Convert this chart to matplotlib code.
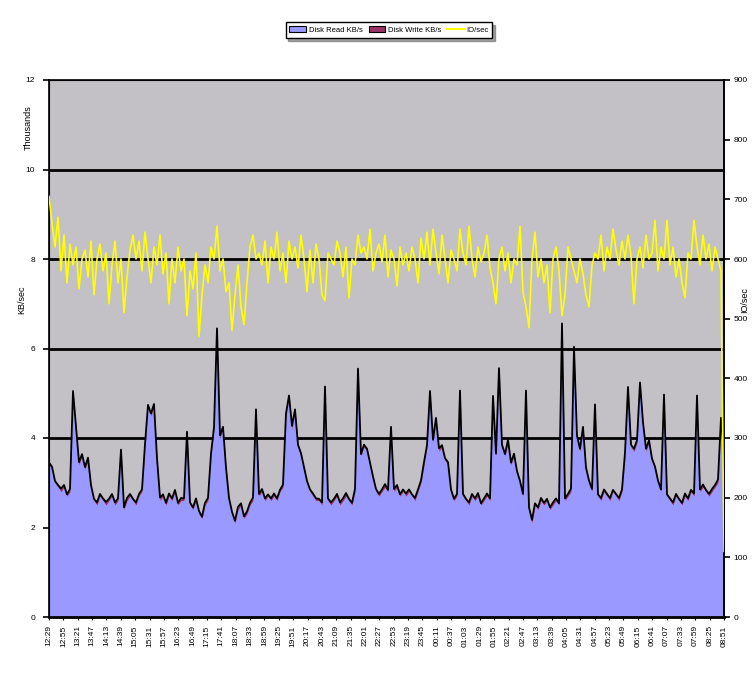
import matplotlib
matplotlib.use("Agg")
import matplotlib.pyplot as plt
import numpy as np
from matplotlib.patches import Patch
from matplotlib.lines import Line2D

plt.rcParams['font.family'] = ['Liberation Sans', 'DejaVu Sans']

# Disk Read KB/s (thousands)
disk_read = [
    3.4, 3.3, 3.0, 2.9, 2.8, 2.9, 2.7, 2.8, 5.0, 4.2, 3.4, 3.6, 3.3, 3.5, 2.9,
    2.6, 2.5, 2.7, 2.6, 2.5, 2.6, 2.7, 2.5, 2.6, 3.7, 2.4, 2.6, 2.7, 2.6, 2.5,
    2.7, 2.8, 3.8, 4.7, 4.5, 4.7, 3.5, 2.6, 2.7, 2.5, 2.7, 2.6, 2.8, 2.5, 2.6,
    2.6, 4.1, 2.5, 2.4, 2.6, 2.3, 2.2, 2.5, 2.6, 3.6, 4.2, 6.4, 4.0, 4.2, 3.3,
    2.6, 2.3, 2.1, 2.4, 2.5, 2.2, 2.3, 2.5, 2.6, 4.6, 2.7, 2.8, 2.6, 2.7, 2.6,
    2.7, 2.6, 2.8, 2.9, 4.5, 4.9, 4.2, 4.6, 3.8, 3.6, 3.3, 3.0, 2.8, 2.7, 2.6,
    2.6, 2.5, 5.1, 2.6, 2.5, 2.6, 2.7, 2.5, 2.6, 2.7, 2.6, 2.5, 2.8, 5.5, 3.6,
    3.8, 3.7, 3.4, 3.1, 2.8, 2.7, 2.8, 2.9, 2.8, 4.2, 2.8, 2.9, 2.7, 2.8, 2.7,
    2.8, 2.7, 2.6, 2.8, 3.0, 3.4, 3.8, 5.0, 3.9, 4.4, 3.7, 3.8, 3.5, 3.4, 2.8,
    2.6, 2.7, 5.0, 2.7, 2.6, 2.5, 2.7, 2.6, 2.7, 2.5, 2.6, 2.7, 2.6, 4.9, 3.6,
    5.5, 3.8, 3.6, 3.9, 3.4, 3.6, 3.2, 3.0, 2.7, 5.0, 2.4, 2.1, 2.5, 2.4, 2.6,
    2.5, 2.6, 2.4, 2.5, 2.6, 2.5, 6.5, 2.6, 2.7, 2.8, 6.0, 4.0, 3.7, 4.2, 3.3,
    3.0, 2.8, 4.7, 2.7, 2.6, 2.8, 2.7, 2.6, 2.8, 2.7, 2.6, 2.8, 3.6, 5.1, 3.8,
    3.7, 3.9, 5.2, 4.3, 3.7, 3.9, 3.5, 3.3, 3.0, 2.8, 4.9, 2.7, 2.6, 2.5, 2.7,
    2.6, 2.5, 2.7, 2.6, 2.8, 2.7, 4.9, 2.8, 2.9, 2.8, 2.7, 2.8, 2.9, 3.0, 4.4, 3.6,
]

# Disk Write KB/s (thousands)
disk_write = [
    0.05, 0.06, 0.04, 0.05, 0.07, 0.05, 0.04, 0.06, 0.05, 0.05, 0.06, 0.04, 0.05, 0.06, 0.05,
    0.04, 0.06, 0.05, 0.05, 0.07, 0.04, 0.05, 0.06, 0.05, 0.04, 0.05, 0.06, 0.05, 0.04, 0.06,
    0.05, 0.05, 0.06, 0.04, 0.05, 0.06, 0.05, 0.07, 0.04, 0.05, 0.06, 0.05, 0.04, 0.05, 0.06,
    0.05, 0.04, 0.06, 0.05, 0.05, 0.07, 0.04, 0.05, 0.06, 0.05, 0.04, 0.05, 0.06, 0.05, 0.04,
    0.06, 0.05, 0.05, 0.06, 0.04, 0.05, 0.06, 0.05, 0.07, 0.04, 0.05, 0.06, 0.05, 0.04, 0.05,
    0.06, 0.05, 0.04, 0.06, 0.05, 0.05, 0.07, 0.04, 0.05, 0.06, 0.05, 0.04, 0.05, 0.06, 0.05,
    0.04, 0.06, 0.05, 0.05, 0.06, 0.04, 0.05, 0.06, 0.05, 0.07, 0.04, 0.05, 0.06, 0.05, 0.04,
    0.05, 0.06, 0.05, 0.04, 0.06, 0.05, 0.05, 0.07, 0.04, 0.05, 0.06, 0.05, 0.04, 0.05, 0.06,
    0.05, 0.04, 0.06, 0.05, 0.05, 0.06, 0.04, 0.05, 0.06, 0.05, 0.07, 0.04, 0.05, 0.06, 0.05,
    0.04, 0.05, 0.06, 0.05, 0.04, 0.06, 0.05, 0.05, 0.07, 0.04, 0.05, 0.06, 0.05, 0.04, 0.05,
    0.06, 0.05, 0.04, 0.06, 0.05, 0.05, 0.06, 0.04, 0.05, 0.06, 0.05, 0.07, 0.04, 0.05, 0.06,
    0.05, 0.04, 0.05, 0.06, 0.05, 0.04, 0.06, 0.05, 0.05, 0.07, 0.04, 0.05, 0.06, 0.05, 0.04,
    0.05, 0.06, 0.05, 0.04, 0.06, 0.05, 0.05, 0.06, 0.04, 0.05, 0.06, 0.05, 0.07, 0.04, 0.05,
    0.06, 0.05, 0.04, 0.05, 0.06, 0.05, 0.04, 0.06, 0.05, 0.05, 0.07, 0.04, 0.05, 0.06, 0.05,
    0.04, 0.05, 0.06, 0.05, 0.04, 0.06, 0.05, 0.05, 0.06, 0.04, 0.05, 0.06, 0.05, 0.07, 0.05, 0.06,
]

# IO/sec
io_sec = [
    705, 660, 620, 670, 580, 640, 560, 625, 590, 620, 550, 600, 615, 570, 630,
    540, 600, 625, 580, 610, 525, 590, 630, 560, 600, 510, 570, 615, 640, 600,
    630, 580, 645, 600, 560, 620, 590, 640, 575, 610, 525, 600, 560, 620, 580,
    600, 505, 580, 550, 610, 470, 540, 590, 560, 620, 600, 655, 580, 600, 545,
    560, 480, 540, 590, 520, 490, 560, 620, 640, 600, 610, 590, 630, 560, 620,
    600, 645, 580, 610, 560, 630, 600, 620, 585, 640, 600, 545, 615, 560, 625,
    600, 540, 530, 610, 600, 590, 630, 610, 570, 620, 535, 600, 590, 640, 610,
    620, 600, 650, 580, 610, 625, 595, 640, 570, 615, 600, 555, 620, 590, 610,
    580, 620, 600, 560, 635, 600, 645, 590, 650, 610, 575, 640, 600, 560, 615,
    600, 580, 650, 610, 590, 655, 600, 570, 620, 595, 610, 640, 585, 560, 525,
    600, 620, 580, 610, 560, 600, 590, 655, 545, 520, 485, 600, 645, 570, 600,
    560, 590, 510, 600, 620, 580, 505, 540, 620, 600, 580, 560, 600, 575, 540,
    520, 590, 610, 600, 640, 580, 620, 600, 650, 615, 590, 630, 600, 640, 605,
    525, 600, 620, 585, 640, 600, 610, 665, 580, 620, 600, 665, 590, 620, 570,
    600, 560, 535, 610, 600, 665, 620, 590, 640, 600, 625, 580, 620, 600, 580, 110,
]

time_labels = [
    "12:29", "12:55", "13:21", "13:47", "14:13", "14:39", "15:05", "15:31",
    "15:57", "16:23", "16:49", "17:15", "17:41", "18:07", "18:33", "18:59",
    "19:25", "19:51", "20:17", "20:43", "21:09", "21:35", "22:01", "22:27",
    "22:53", "23:19", "23:45", "00:11", "00:37", "01:03", "01:29", "01:55",
    "02:21", "02:47", "03:13", "03:39", "04:05", "04:31", "04:57", "05:23",
    "05:49", "06:15", "06:41", "07:07", "07:33", "07:59", "08:25", "08:51",
]

left_ticks = [0, 2, 4, 6, 8, 10, 12]
right_ticks = [0, 100, 200, 300, 400, 500, 600, 700, 800, 900]

read = np.array(disk_read)
write = np.array(disk_write)
io = np.array(io_sec)
x = np.arange(len(read))

fig = plt.figure(figsize=(7.55, 6.82), dpi=100)
ax = fig.add_axes([49/755, 1-617/682, (724-49)/755, (617-80)/682])
ax.set_facecolor('#C3C1C6')

for yv in left_ticks[1:-1]:
    ax.axhline(yv, color='black', lw=2.0, zorder=1)

ax.fill_between(x, 0, read, color='#9999FF', lw=0, zorder=2)
ax.fill_between(x, read, read + write, color='#993366', lw=0, zorder=3)
ax.plot(x, read + write, color='black', lw=1.3, zorder=4)

ax.set_xlim(0, len(x) - 1)
ax.set_ylim(0, 12)
ax.set_yticks(left_ticks)
ax.set_yticklabels([str(v) for v in left_ticks], fontsize=6)
ax.tick_params(axis='y', direction='out', length=4, width=1.2, pad=6)

tick_pos = np.linspace(0, len(x) - 1, len(time_labels))
ax.set_xticks(tick_pos)
ax.set_xticklabels(time_labels, rotation=90, fontsize=6)
ax.tick_params(axis='x', direction='out', length=2, width=0.8, pad=4)

for sp in ax.spines.values():
    sp.set_color('black')
    sp.set_linewidth(1.2)
ax.spines['bottom'].set_linewidth(2.0)

ax2 = ax.twinx()
ax2.plot(x, io, color='#FFFF00', lw=1.2, zorder=5)
ax2.set_ylim(0, 900)
ax2.set_yticks(right_ticks)
ax2.set_yticklabels([str(v) for v in right_ticks], fontsize=6)
ax2.tick_params(axis='y', direction='out', length=4, width=1.2, pad=3)
ax2.spines['right'].set_color('black')
ax2.spines['right'].set_linewidth(1.2)

fig.text(28/755, 1-128/682, "Thousands", rotation=90, fontsize=6.5,
         ha='center', va='center')
fig.text(22/755, 1-300/682, "KB/sec", rotation=90, fontsize=6.5,
         ha='center', va='center')
fig.text(745/755, 1-300/682, "IO/sec", rotation=90, fontsize=6.5,
         ha='center', va='center')

handles = [
    Patch(facecolor='#9999FF', edgecolor='black', lw=0.8, label='Disk Read KB/s'),
    Patch(facecolor='#993366', edgecolor='black', lw=0.8, label='Disk Write KB/s'),
    Line2D([0], [0], color='#FFFF00', lw=1.5, label='IO/sec'),
]
leg = fig.legend(handles=handles, loc='center', bbox_to_anchor=(389/755, 1-30/682),
                 ncol=3, fontsize=5.5, frameon=True, fancybox=False, shadow=True,
                 handlelength=2.2, handleheight=0.9, columnspacing=0.8,
                 handletextpad=0.3, borderpad=0.5, borderaxespad=0)
leg.get_frame().set_edgecolor('black')
leg.get_frame().set_linewidth(1.0)

fig.savefig('out.png', dpi=100, facecolor='white')
